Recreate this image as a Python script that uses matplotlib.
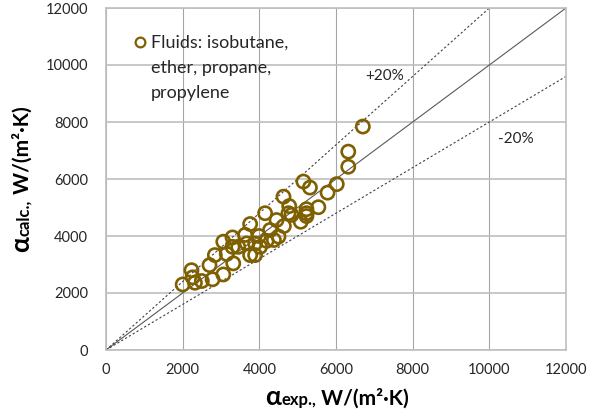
import matplotlib
matplotlib.use("Agg")
import matplotlib.pyplot as plt
import numpy as np

plt.rcParams["font.family"] = ["Lato", "DejaVu Sans"]

# experimental vs calculated heat transfer coefficient, W/(m2 K)
alpha_exp = [2000, 2230, 2260, 2320, 2500, 2780, 2700, 2840, 3060, 3150,
             3060, 3300, 3320, 3300, 3450, 3670, 3630, 3760, 3760, 3990,
             4020, 4150, 4280, 4380, 4500, 4450, 4630, 4640, 4760, 4780,
             5080, 5230, 5230, 5540, 5150, 5320, 5780, 6020, 6320, 6320,
             6700, 3890, 3890, 4190, 4840, 5230]
alpha_calc = [2300, 2800, 2550, 2360, 2420, 2480, 2980, 3330, 2650, 3370,
              3800, 3950, 3040, 3620, 3620, 3740, 4040, 3330, 4420, 4000,
              3620, 4800, 4210, 3860, 3980, 4560, 5380, 4350, 4800, 5050,
              4500, 4700, 4940, 5010, 5910, 5700, 5520, 5820, 6430, 6960,
              7840, 3330, 3740, 3830, 4740, 4800]
ticks = [0, 2000, 4000, 6000, 8000, 10000, 12000]
lim = 12000
dev = 0.2
legend_label = "Fluids: isobutane,\nether, propane,\npropylene"
mk = "#7F6000"

fig = plt.figure(figsize=(6.01, 4.17), dpi=100)
ax = fig.add_axes([106 / 601, 1 - 350 / 417, 460 / 601, 342 / 417])

xs = np.array([0, lim])
ax.plot(xs, xs, color="#595959", lw=0.8, zorder=2)
ax.plot(xs, xs * (1 + dev), color="#404040", lw=0.8, ls=(0, (2, 2)), zorder=2)
ax.plot(xs, xs * (1 - dev), color="#404040", lw=0.8, ls=(0, (2, 2)), zorder=2)
ax.scatter(alpha_exp, alpha_calc, s=90, facecolors="none", edgecolors=mk, linewidths=1.9, zorder=3)

ax.set_xlim(0, lim); ax.set_ylim(0, lim)
ax.set_xticks(ticks); ax.set_yticks(ticks)
ax.tick_params(length=0, labelsize=10.5, labelcolor="#262626")
ax.tick_params(axis="x", pad=9); ax.tick_params(axis="y", pad=13)
ax.xaxis.grid(True, color="#a6a6a6", lw=0.8)
ax.yaxis.grid(True, color="#bfbfbf", lw=1.2)
ax.set_axisbelow(True)
for s in ax.spines.values():
    s.set_color("#bfbfbf"); s.set_linewidth(1.2)

ax.text(7280, 9610, "+20%", fontsize=11, ha="center", va="center", color="#262626")
ax.text(10680, 7420, "-20%", fontsize=11, ha="center", va="center", color="#262626")

# legend (Excel style, marker next to first line)
ax.plot([(140 - 106) / 460], [(350 - 42) / 342], "o", ms=7, mfc="none", mec=mk, mew=1.6,
        transform=ax.transAxes, clip_on=False)
for i, line in enumerate(legend_label.split("\n")):
    ax.text((151 - 106) / 460, (350 - 48 - 25 * i) / 342, line, transform=ax.transAxes,
            fontsize=13, va="baseline", ha="left", color="#262626")

# axis labels built from pieces of different size
W, H = fig.get_size_inches() * fig.dpi
r = fig.canvas.get_renderer()


def label(parts, x0, y0, rot):
    ts = []
    for txt, fs in parts:
        ts.append(fig.text(0, 0, txt, fontsize=fs, weight="bold", color="#000000",
                           rotation=rot, rotation_mode="anchor", ha="left", va="baseline"))
    lens = []
    for t in ts:
        e = t.get_window_extent(r)
        lens.append(e.width if rot == 0 else e.height)
    pos = -sum(lens) / 2
    for t, L in zip(ts, lens):
        if rot == 0:
            t.set_position(((x0 + pos) / W, y0 / H))
        else:
            t.set_position((x0 / W, (y0 + pos) / H))
        pos += L


label([("α", 19), ("exp.,", 12), (" W/(m²·K)", 15)], 337, 417 - 405, 0)
label([("α", 19), ("calc.,", 12), (" W/(m²·K)", 15)], 29, 417 - 179, 90)

fig.savefig("out.png", dpi=100)
